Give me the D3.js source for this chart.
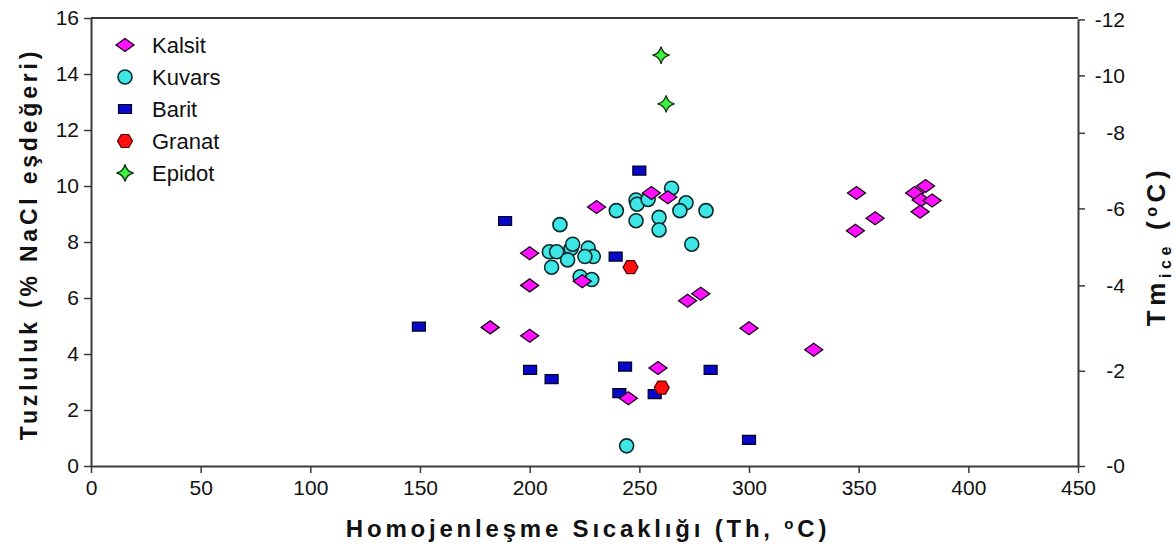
<!DOCTYPE html>
<html>
<head>
<meta charset="utf-8">
<script src="https://cdn.jsdelivr.net/npm/d3@7"></script>
<style>
  html, body { margin: 0; padding: 0; background: #fff; }
  svg { display: block; font-family: Arial, "Liberation Sans", sans-serif; }
</style>
</head>
<body>
<svg id="chart" width="1174" height="548"></svg>
<script>
// Fluid inclusion data: homogenisation temperature (Th, °C) vs salinity (% NaCl eq.)
const kalsit = [
  [182, 4.95], [200, 4.65], [200, 6.45], [200, 7.6], [224, 6.6], [230.5, 9.25],
  [255.5, 9.75], [263, 9.6], [272, 5.9], [278, 6.15], [300, 4.92], [258.5, 3.5],
  [245, 2.42], [329.5, 4.15], [349, 9.75], [357.5, 8.85], [348.5, 8.4],
  [375.5, 9.75], [380.5, 10.0], [378.5, 9.5], [383.5, 9.48], [378, 9.08]
];
const kuvars = [
  [213.8, 8.62], [209, 7.65], [212.3, 7.65], [210, 7.1], [218.9, 7.77], [219.6, 7.92],
  [217.3, 7.36], [226.7, 7.78], [229, 7.48], [225.2, 7.48], [223, 6.76], [228.3, 6.66],
  [239.5, 9.12], [248.5, 9.5], [249, 9.35], [254, 9.52], [264.7, 9.92], [271.3, 9.4],
  [268.5, 9.12], [280.4, 9.12], [248.5, 8.76], [259, 8.88], [259, 8.43], [273.9, 7.92],
  [244.2, 0.72]
];
const barit = [
  [149.5, 4.98], [188.8, 8.75], [250, 10.55], [239.2, 7.48], [200.2, 3.43], [210, 3.1],
  [243.5, 3.55], [240.9, 2.6], [257, 2.57], [282.5, 3.43], [300, 0.93]
];
const granat = [[246, 7.1], [260.2, 2.8]];
const epidot = [[259.9, 14.67], [262.2, 12.93]];

const seriesNames = ["Kalsit", "Kuvars", "Barit", "Granat", "Epidot"];
const xTicks = [0, 50, 100, 150, 200, 250, 300, 350, 400, 450];
const yTicks = [0, 2, 4, 6, 8, 10, 12, 14, 16];
// Ice-melting temperature ticks and their salinity equivalents
const tmTicks = [0, -2, -4, -6, -8, -10, -12];
const tmSalinity = [0, 3.4, 6.45, 9.2, 11.9, 13.95, 15.95];

const svg = d3.select("#chart");
const L = 91, R = 1078, T = 18, B = 466;

const x = d3.scaleLinear().domain([0, 450]).range([L, R]);
const y = d3.scaleLinear().domain([0, 16]).range([B, T]);
const yTm = d3.scaleLinear().domain(tmTicks).range(tmSalinity.map(s => y(s)));

const axisColor = "#3a3a3a";
const tickFont = "21px";

// frame top line
svg.append("line").attr("x1", L).attr("x2", R).attr("y1", T).attr("y2", T)
  .attr("stroke", axisColor).attr("stroke-width", 2);

function styleAxis(g) {
  g.select(".domain").attr("stroke", axisColor).attr("stroke-width", 2);
  g.selectAll(".tick line").attr("stroke", axisColor).attr("stroke-width", 1.5);
  g.selectAll(".tick text").attr("fill", "#111").style("font-size", tickFont)
    .style("font-family", "Arial, 'Liberation Sans', sans-serif");
}

const gx = svg.append("g").attr("transform", `translate(0,${B})`)
  .call(d3.axisBottom(x).tickValues(xTicks).tickSize(7).tickSizeOuter(0).tickPadding(7));
styleAxis(gx);

const gy = svg.append("g").attr("transform", `translate(${L},0)`)
  .call(d3.axisLeft(y).tickValues(yTicks).tickSize(7).tickSizeOuter(0).tickPadding(5));
styleAxis(gy);

const gr = svg.append("g").attr("transform", `translate(${R},0)`)
  .call(d3.axisRight(yTm).tickValues(tmTicks).tickSize(7).tickSizeOuter(0).tickPadding(14)
    .tickFormat(d => "-" + Math.abs(d)));
styleAxis(gr);
gr.selectAll(".tick text").attr("text-anchor", "end").attr("x", 47);

// axis titles
svg.append("text")
  .attr("x", 588).attr("y", 537)
  .attr("text-anchor", "middle")
  .style("font-size", "24px").style("font-weight", "bold").style("letter-spacing", "3.8px")
  .attr("fill", "#111")
  .html('Homojenleşme Sıcaklığı (Th, <tspan dy="-8" font-size="15px">o</tspan><tspan dy="8">C)</tspan>');

svg.append("text")
  .attr("transform", `translate(37,244) rotate(-90)`)
  .attr("text-anchor", "middle")
  .style("font-size", "23px").style("font-weight", "bold").style("letter-spacing", "3.8px")
  .attr("fill", "#111")
  .text("Tuzluluk (% NaCl eşdeğeri)");

svg.append("text")
  .attr("transform", `translate(1165,246) rotate(-90)`)
  .attr("text-anchor", "middle")
  .style("font-size", "26px").style("font-weight", "bold").style("letter-spacing", "4.6px")
  .attr("fill", "#111")
  .html('Tm<tspan dy="6" font-size="16px">ice</tspan><tspan dy="-6"> (</tspan><tspan dy="-8" font-size="16px">o</tspan><tspan dy="8">C)</tspan>');

// marker shapes
const diamond = "M-9,0L0,-6.5L9,0L0,6.5Z";
const rect = "M-6.5,-4.5H6.5V4.5H-6.5Z";
const hexagon = (() => {
  const r = 7.5;
  return "M" + d3.range(6).map(i => {
    const a = Math.PI / 3 * i;
    return [r * Math.cos(a), r * Math.sin(a)].join(",");
  }).join("L") + "Z";
})();
const star = (() => {
  const r = 8.5, c = 1.6;
  return `M0,${-r}Q${c},${-c} ${r},0Q${c},${c} 0,${r}Q${-c},${c} ${-r},0Q${-c},${-c} 0,${-r}Z`;
})();

const styles = {
  Kalsit: { data: kalsit, fill: "#ff10ff", stroke: "#1a001a", sw: 1.3, shape: diamond },
  Kuvars: { data: kuvars, fill: "#3ee6e6", stroke: "#0a2a2a", sw: 1.6, shape: null },
  Barit:  { data: barit, fill: "#0808c8", stroke: "#000022", sw: 1.2, shape: rect },
  Granat: { data: granat, fill: "#ff1010", stroke: "#550000", sw: 1.2, shape: hexagon },
  Epidot: { data: epidot, fill: "#3cf23c", stroke: "#113311", sw: 1.3, shape: star }
};

function drawMarker(sel, s) {
  if (s.shape) {
    sel.append("path").attr("d", s.shape);
  } else {
    sel.append("circle").attr("r", 7);
  }
  sel.selectAll("path,circle").attr("fill", s.fill).attr("stroke", s.stroke).attr("stroke-width", s.sw);
}

const drawOrder = ["Barit", "Kuvars", "Kalsit", "Granat", "Epidot"];
drawOrder.forEach(name => {
  const s = styles[name];
  svg.append("g").selectAll("g").data(s.data).join("g")
    .attr("transform", d => `translate(${x(d[0])},${y(d[1])})`)
    .each(function () { drawMarker(d3.select(this), s); });
});

// legend
const legend = svg.append("g").attr("transform", "translate(125,45)");
seriesNames.forEach((name, i) => {
  const g = legend.append("g").attr("transform", `translate(0,${i * 32})`);
  drawMarker(g, styles[name]);
  g.append("text").attr("x", 27).attr("y", 8)
    .style("font-size", "22px").attr("fill", "#111").text(name);
});
</script>
</body>
</html>
